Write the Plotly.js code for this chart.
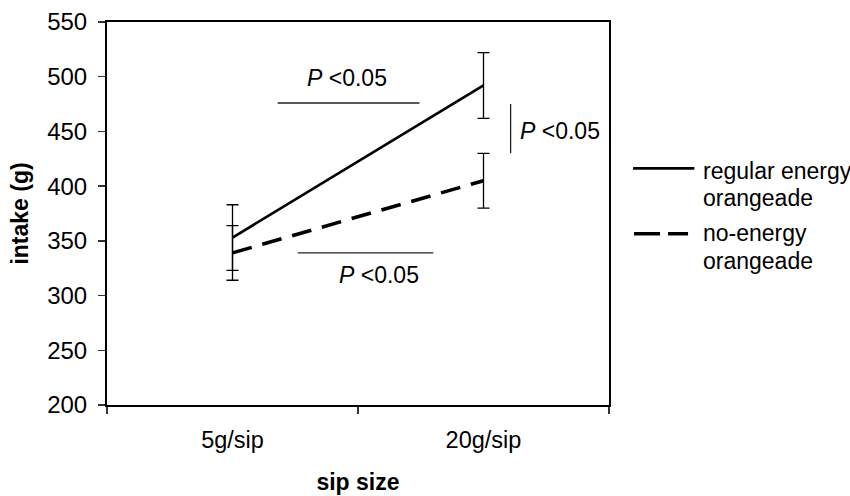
<!DOCTYPE html>
<html>
<head>
<meta charset="utf-8">
<script src="https://cdn.plot.ly/plotly-3.0.1.min.js"></script>
<style>html,body{margin:0;padding:0;background:#fff;}#chart{width:850px;height:496px;}</style>
</head>
<body>
<div id="chart"></div>
<script>
// Data
var categories = ["5g/sip", "20g/sip"];
var regularIntake = [353, 492];
var regularSE = [30, 30];
var noEnergyIntake = [339, 405];
var noEnergySE = [25, 25];
var seriesNames = ["regular energy", "no-energy"];
var yTicks = [200, 250, 300, 350, 400, 450, 500, 550];
var pLabel = "<i>P</i> &lt;0.05";

var FONT = "Liberation Sans, Arial, sans-serif";

var traces = [
  {
    type: "scatter", mode: "lines", name: seriesNames[0],
    x: categories, y: regularIntake,
    line: {color: "#000", width: 2.7},
    error_y: {type: "data", array: regularSE, visible: true, color: "#000", thickness: 1.3, width: 6},
    showlegend: false, hoverinfo: "skip"
  },
  {
    type: "scatter", mode: "lines", name: seriesNames[1],
    x: categories, y: noEnergyIntake,
    line: {color: "#000", width: 3.6, dash: "20px,11px"},
    error_y: {type: "data", array: noEnergySE, visible: true, color: "#000", thickness: 1.3, width: 6},
    showlegend: false, hoverinfo: "skip"
  }
];

var lineStyle = {color: "#222", width: 1.3};
var shapes = [
  // significance bars (data coordinates)
  {type: "line", xref: "x", yref: "y", x0: 0.18, x1: 0.745, y0: 476, y1: 476, line: lineStyle},
  {type: "line", xref: "x", yref: "y", x0: 0.26, x1: 0.80, y0: 339, y1: 339, line: lineStyle},
  {type: "line", xref: "x", yref: "y", x0: 1.108, x1: 1.108, y0: 430, y1: 475, line: lineStyle},
  // legend samples
  {type: "line", xref: "paper", yref: "paper", x0: 1.0479, x1: 1.170, y0: 0.618, y1: 0.618, line: {color: "#000", width: 2.7}},
  {type: "line", xref: "paper", yref: "paper", x0: 1.0499, x1: 1.1575, y0: 0.447, y1: 0.447, line: {color: "#000", width: 3.6, dash: "26px,8px"}}
];

var annFont = {family: FONT, size: 23, color: "#000"};
var annotations = [
  {xref: "x", yref: "y", x: 0.455, y: 499, text: pLabel, showarrow: false, font: annFont, xanchor: "center", yanchor: "middle"},
  {xref: "x", yref: "y", x: 0.583, y: 319, text: pLabel, showarrow: false, font: annFont, xanchor: "center", yanchor: "middle"},
  {xref: "x", yref: "y", x: 1.138, y: 450, text: pLabel, showarrow: false, font: annFont, xanchor: "left", yanchor: "middle"},
  {xref: "paper", yref: "paper", x: 1.184, y: 0.612, text: "regular energy", showarrow: false, font: annFont, xanchor: "left", yanchor: "middle"},
  {xref: "paper", yref: "paper", x: 1.184, y: 0.540, text: "orangeade", showarrow: false, font: annFont, xanchor: "left", yanchor: "middle"},
  {xref: "paper", yref: "paper", x: 1.184, y: 0.448, text: "no-energy", showarrow: false, font: annFont, xanchor: "left", yanchor: "middle"},
  {xref: "paper", yref: "paper", x: 1.184, y: 0.376, text: "orangeade", showarrow: false, font: annFont, xanchor: "left", yanchor: "middle"}
];

var layout = {
  width: 850, height: 496,
  margin: {l: 107, r: 241, t: 22, b: 91, pad: 0},
  paper_bgcolor: "#fff", plot_bgcolor: "#fff",
  font: {family: FONT, size: 23, color: "#000"},
  showlegend: false,
  xaxis: {
    type: "category", range: [-0.5, 1.5],
    tickson: "boundaries", ticks: "outside", ticklen: 7, tickwidth: 1.3, tickcolor: "#333",
    ticklabelstandoff: 13,
    showline: true, linecolor: "#000", linewidth: 2, mirror: true,
    showgrid: false, zeroline: false,
    tickfont: {family: FONT, size: 23.5},
    title: {text: "<b>sip size</b>", font: {family: FONT, size: 23}, standoff: 22}
  },
  yaxis: {
    range: [200, 550], tickvals: yTicks,
    ticks: "outside", ticklen: 7, tickwidth: 1.3, tickcolor: "#333",
    ticklabelstandoff: 6,
    showline: true, linecolor: "#000", linewidth: 2, mirror: true,
    showgrid: false, zeroline: false,
    tickfont: {family: FONT, size: 24},
    title: {text: "<b>intake (g)</b>", font: {family: FONT, size: 23}, standoff: 12}
  },
  shapes: shapes,
  annotations: annotations
};

Plotly.newPlot("chart", traces, layout, {staticPlot: true, displayModeBar: false});
</script>
</body>
</html>
